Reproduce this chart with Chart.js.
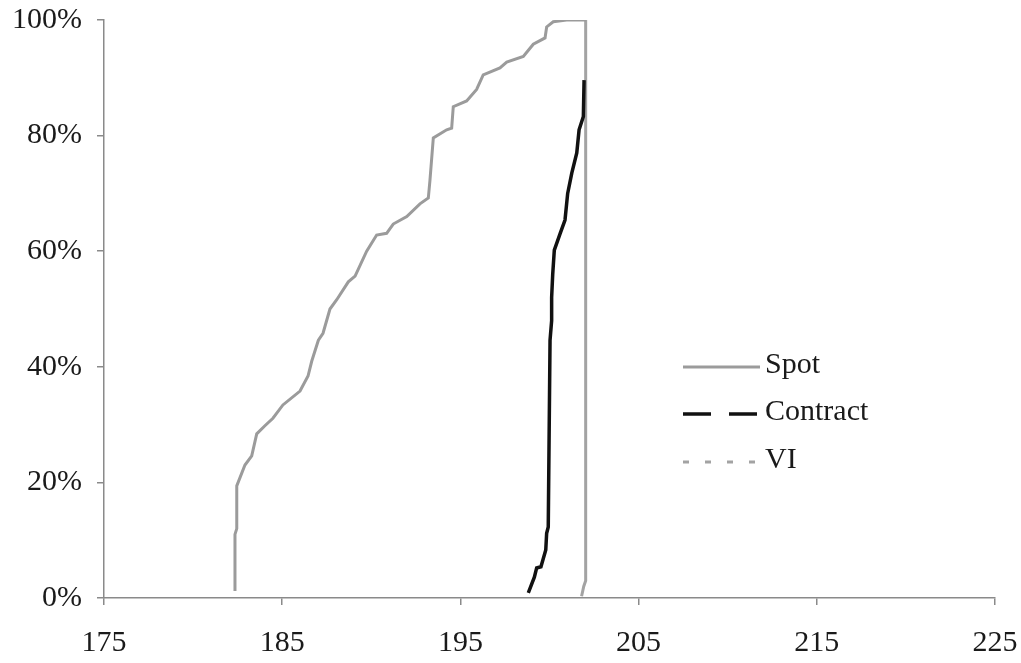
<!DOCTYPE html>
<html>
<head>
<meta charset="utf-8">
<style>
  html, body { margin: 0; padding: 0; background: #fff; }
  #wrap { width: 1021px; height: 663px; position: relative; }
</style>
<script src="https://cdn.jsdelivr.net/npm/chart.js@4.4.1/dist/chart.umd.min.js"></script>
</head>
<body>
<div id="wrap"><canvas id="chart"></canvas></div>
<script>
// Cumulative distributions: x = price, y = share in %
const spotX = [182.35, 182.35, 182.45, 182.45, 182.91, 183.29, 183.57, 184.03, 184.48, 185.04, 186.00, 186.45,
               186.66, 187.03, 187.29, 187.68, 188.06, 188.71, 189.09, 189.74, 190.30, 190.86, 191.23, 191.99,
               192.73, 193.20, 193.29, 193.48, 194.23, 194.51, 194.60, 195.35, 195.91, 196.28, 197.22, 197.60,
               198.53, 199.09, 199.75, 199.84, 200.21, 200.96, 202.05];
const spotY = [1.2, 11, 12, 19.4, 23, 24.6, 28.4, 29.8, 31.1, 33.4, 35.8, 38.4,
               41, 44.6, 45.8, 50, 51.6, 54.7, 55.7, 60, 62.8, 63.1, 64.7, 66,
               68.2, 69.2, 72.2, 79.6, 81, 81.3, 85, 86, 88, 90.5, 91.7, 92.7,
               93.7, 95.8, 96.9, 98.8, 99.7, 100, 100];

const contractX = [198.81, 199.15, 199.28, 199.52, 199.79, 199.84, 199.93, 200.03, 200.12, 200.12, 200.18, 200.27,
                   200.59, 200.87, 201.02, 201.25, 201.53, 201.66, 201.90, 201.94];
const contractY = [0.9, 3.6, 5.2, 5.4, 8.3, 11.2, 12.3, 44.6, 48, 52, 56, 60.2,
                   63, 65.4, 70, 73.5, 77, 81, 83.3, 89.6];

const viX = [201.80, 201.92, 202.03, 202.03];
const viY = [0.3, 2, 3, 100];

const seriesNames = ['Spot', 'Contract', 'VI'];
const xTicks = [175, 185, 195, 205, 215, 225];
const yTicks = [0, 20, 40, 60, 80, 100];

const FONT = "'Liberation Serif', 'Times New Roman', serif";
const AXIS = '#8a8a8a';

function pts(xs, ys){ return xs.map((x, i) => ({ x: x, y: ys[i] })); }

// legend drawn inside the plot, to the right of the curves
const innerLegend = {
  id: 'innerLegend',
  afterDraw(chart){
    const ctx = chart.ctx;
    const x0 = 683, x1 = 760, rows = [367, 414, 462];
    ctx.save();
    chart.data.datasets.forEach((ds, i) => {
      const y = rows[i];
      ctx.beginPath();
      ctx.setLineDash(ds.legendDash || []);
      ctx.lineWidth = ds.borderWidth;
      ctx.strokeStyle = ds.borderColor;
      ctx.moveTo(x0, y);
      ctx.lineTo(x1, y);
      ctx.stroke();
      ctx.setLineDash([]);
      ctx.fillStyle = '#1a1a1a';
      ctx.font = '30px ' + FONT;
      ctx.textBaseline = 'middle';
      ctx.fillText(ds.label, 765, y - 2);
    });
    ctx.restore();
  }
};

new Chart(document.getElementById('chart'), {
  type: 'line',
  data: {
    datasets: [
      { label: seriesNames[0], data: pts(spotX, spotY),
        borderColor: '#9b9b9b', borderWidth: 3, pointRadius: 0, tension: 0 },
      { label: seriesNames[1], data: pts(contractX, contractY),
        borderColor: '#111111', borderWidth: 3.5, pointRadius: 0, tension: 0, legendDash: [28, 18] },
      { label: seriesNames[2], data: pts(viX, viY),
        borderColor: '#a3a3a3', borderWidth: 3, pointRadius: 0, tension: 0, legendDash: [6, 16] }
    ]
  },
  options: {
    responsive: true, maintainAspectRatio: false, animation: false,
    layout: { padding: { left: 0, top: 20, right: 26, bottom: 0 } },
    plugins: { legend: { display: false }, tooltip: { enabled: false } },
    scales: {
      x: {
        type: 'linear', min: xTicks[0], max: xTicks[xTicks.length - 1],
        afterBuildTicks: s => { s.ticks = xTicks.map(v => ({ value: v })); },
        afterFit: s => { s.height = 65; s.paddingLeft = 0; s.paddingRight = 0; },
        border: { color: AXIS, width: 1.5 },
        grid: { drawOnChartArea: false, drawTicks: true, tickLength: 7, color: AXIS, lineWidth: 1.5 },
        ticks: { color: '#1a1a1a', padding: 20, maxRotation: 0, font: { family: FONT, size: 30 } }
      },
      y: {
        min: yTicks[0], max: yTicks[yTicks.length - 1],
        afterBuildTicks: s => { s.ticks = yTicks.map(v => ({ value: v })); },
        afterFit: s => { s.width = 104; s.paddingTop = 0; s.paddingBottom = 0; },
        border: { color: AXIS, width: 1.5 },
        grid: { drawOnChartArea: false, drawTicks: true, tickLength: 7, color: AXIS, lineWidth: 1.5 },
        ticks: { color: '#1a1a1a', padding: 15, callback: v => v + '%', font: { family: FONT, size: 30 } }
      }
    }
  },
  plugins: [innerLegend]
});
</script>
</body>
</html>
